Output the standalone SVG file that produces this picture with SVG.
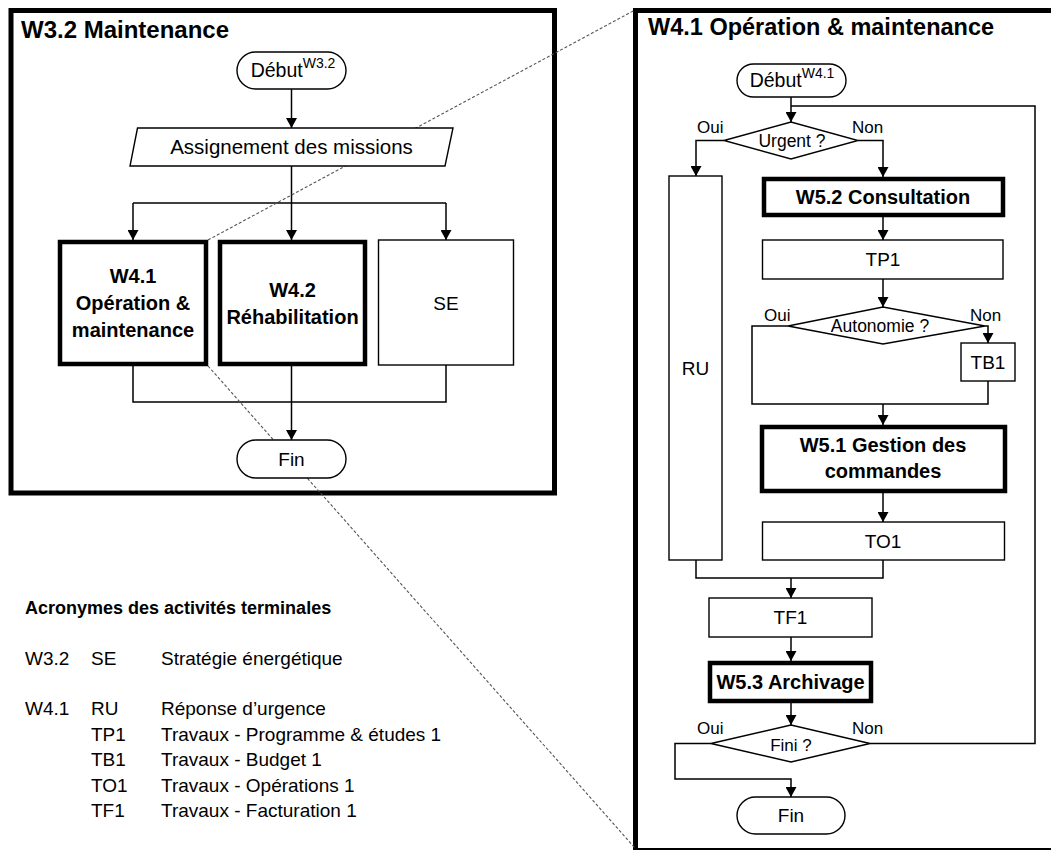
<svg xmlns="http://www.w3.org/2000/svg" width="1051" height="850" viewBox="0 0 1051 850">
<style>
text{font-family:"Liberation Sans",Arial,sans-serif;fill:#000}
.t{font-size:24px;font-weight:bold}
.b{font-size:20px;font-weight:bold;text-anchor:middle}
.r{font-size:19px;text-anchor:middle}
.s{font-size:17px}
.d{font-size:17.5px;text-anchor:middle}
.lg{font-size:19px}
.panel{fill:#fff;stroke:#000;stroke-width:5}
.thin{fill:#fff;stroke:#000;stroke-width:1.4}
.thick{fill:#fff;stroke:#000;stroke-width:4.5}
.c{fill:none;stroke:#000;stroke-width:1.5}
.a{fill:none;stroke:#000;stroke-width:1.5;marker-end:url(#arr)}
.dash{fill:none;stroke:#555;stroke-width:1.1;stroke-dasharray:3 2}
</style>
<defs>
<marker id="arr" markerWidth="11" markerHeight="11" refX="10" refY="5.5" orient="auto" markerUnits="userSpaceOnUse"><path d="M0,0 L10,5.5 L0,11 z" fill="#000"/></marker>
</defs>
<rect width="1051" height="850" fill="#fff"/>

<g id="panel-w32">
<rect class="panel" x="11" y="10.5" width="543.5" height="482.5"/>
<text class="t" x="21" y="38">W3.2 Maintenance</text>
</g>
<g id="panel-w41">
<rect class="panel" x="635.5" y="10.5" width="430" height="840"/>
<text class="t" x="648" y="35" style="font-size:23.5px">W4.1 Opération &amp; maintenance</text>
</g>

<g id="connectors">
<!-- left -->
<path class="a" d="M291.5,89 V128"/>
<path class="c" d="M291.5,166 V203 M133,203 H446"/>
<path class="a" d="M133,203 V240"/>
<path class="a" d="M291.5,203 V240"/>
<path class="a" d="M446,203 V240"/>
<path class="c" d="M133,366 V402 H446 V365"/>
<path class="a" d="M291.5,366 V440"/>
<!-- right -->
<path class="a" d="M791,97 V122"/>
<path class="c" d="M870,743.5 H1035 V106 H791"/>
<path class="a" d="M724,140.5 H696 V176"/>
<path class="a" d="M858,140.5 H883 V177"/>
<path class="a" d="M883,217 V240"/>
<path class="a" d="M883,279 V307"/>
<path class="c" d="M788,326 H752 V404 H988 V381"/>
<path class="a" d="M985,326 H988 V343"/>
<path class="a" d="M883,404 V425"/>
<path class="a" d="M883,493 V522"/>
<path class="c" d="M696,560 V578 H883 V560"/>
<path class="a" d="M791,578 V598"/>
<path class="a" d="M791,637 V661"/>
<path class="a" d="M791,703 V725"/>
<path class="a" d="M711,743.5 H675 V779 H791 V797"/>
<!-- zoom lines -->
<path class="dash" d="M208,240 L635,10"/>
<path class="dash" d="M208,366 L635,848"/>
</g>

<g id="debut-w32">
<rect class="thin" x="237" y="52" width="109" height="37" rx="18.5"/>
<text class="r" x="293" y="77" style="font-size:19.5px">Début<tspan dy="-9" style="font-size:14px">W3.2</tspan></text>
</g>
<g id="assignement">
<polygon class="thin" points="137.5,128 453,128 445,166 130,166"/>
<text class="r" x="291.5" y="154" style="font-size:20.5px">Assignement des missions</text>
</g>
<g id="w41-box">
<rect class="thick" x="60" y="242" width="146" height="122"/>
<text class="b" x="133" y="283">W4.1</text>
<text class="b" x="133" y="310">Opération &amp;</text>
<text class="b" x="133" y="337">maintenance</text>
</g>
<g id="w42-box">
<rect class="thick" x="220" y="242" width="145" height="122"/>
<text class="b" x="292.5" y="297">W4.2</text>
<text class="b" x="292.5" y="324">Réhabilitation</text>
</g>
<g id="se-box">
<rect class="thin" x="378.5" y="240" width="135" height="125"/>
<text class="r" x="446" y="310">SE</text>
</g>
<g id="fin-w32">
<rect class="thin" x="237" y="440" width="109" height="38" rx="19"/>
<text class="r" x="291.5" y="466">Fin</text>
</g>

<g id="debut-w41">
<rect class="thin" x="737" y="64" width="109" height="33" rx="16.5"/>
<text class="r" x="792" y="87" style="font-size:19.5px">Début<tspan dy="-9" style="font-size:14px">W4.1</tspan></text>
</g>
<g id="urgent">
<polygon class="thin" points="724,140.5 791,122 858,140.5 791,159"/>
<text class="d" x="792" y="147">Urgent ?</text>
<text class="s" x="697" y="133">Oui</text>
<text class="s" x="852" y="133">Non</text>
</g>
<g id="ru">
<rect class="thin" x="669" y="176" width="53" height="384"/>
<text class="r" x="695.5" y="375">RU</text>
</g>
<g id="w52">
<rect class="thick" x="764" y="179" width="239" height="36"/>
<text class="b" x="883" y="204">W5.2 Consultation</text>
</g>
<g id="tp1">
<rect class="thin" x="762.5" y="240" width="240.5" height="39"/>
<text class="r" x="883" y="266">TP1</text>
</g>
<g id="autonomie">
<polygon class="thin" points="788,326 883,307 985,326 883,344"/>
<text class="d" x="880" y="332">Autonomie ?</text>
<text class="s" x="764" y="321">Oui</text>
<text class="s" x="970" y="321">Non</text>
</g>
<g id="tb1">
<rect class="thin" x="961" y="343" width="54" height="38"/>
<text class="r" x="988" y="369">TB1</text>
</g>
<g id="w51">
<rect class="thick" x="762" y="427" width="243" height="64"/>
<text class="b" x="883" y="452">W5.1 Gestion des</text>
<text class="b" x="883" y="478">commandes</text>
</g>
<g id="to1">
<rect class="thin" x="762.5" y="522" width="242" height="38"/>
<text class="r" x="883" y="548">TO1</text>
</g>
<g id="tf1">
<rect class="thin" x="709" y="598" width="163" height="39"/>
<text class="r" x="790.5" y="624">TF1</text>
</g>
<g id="w53">
<rect class="thick" x="710" y="663" width="161" height="38"/>
<text class="b" x="790.5" y="689">W5.3 Archivage</text>
</g>
<g id="fini">
<polygon class="thin" points="711,743.5 791,725 870,743.5 791,762"/>
<text class="d" x="791" y="751" style="font-size:17px">Fini ?</text>
<text class="s" x="697" y="734">Oui</text>
<text class="s" x="852" y="734">Non</text>
</g>
<g id="fin-w41">
<rect class="thin" x="737" y="797" width="108" height="37" rx="18.5"/>
<text class="r" x="791" y="822">Fin</text>
</g>

<g id="legend">
<text x="25" y="614" style="font-size:18px;font-weight:bold">Acronymes des activités terminales</text>
<text class="lg" x="25" y="665">W3.2</text>
<text class="lg" x="91" y="665">SE</text>
<text class="lg" x="161" y="665">Stratégie énergétique</text>
<text class="lg" x="25" y="715">W4.1</text>
<text class="lg" x="91" y="715">RU</text>
<text class="lg" x="161" y="715">Réponse d’urgence</text>
<text class="lg" x="91" y="740.5">TP1</text>
<text class="lg" x="161" y="740.5">Travaux - Programme &amp; études 1</text>
<text class="lg" x="91" y="766">TB1</text>
<text class="lg" x="161" y="766">Travaux - Budget 1</text>
<text class="lg" x="91" y="791.5">TO1</text>
<text class="lg" x="161" y="791.5">Travaux - Opérations 1</text>
<text class="lg" x="91" y="817">TF1</text>
<text class="lg" x="161" y="817">Travaux - Facturation 1</text>
</g>
</svg>
